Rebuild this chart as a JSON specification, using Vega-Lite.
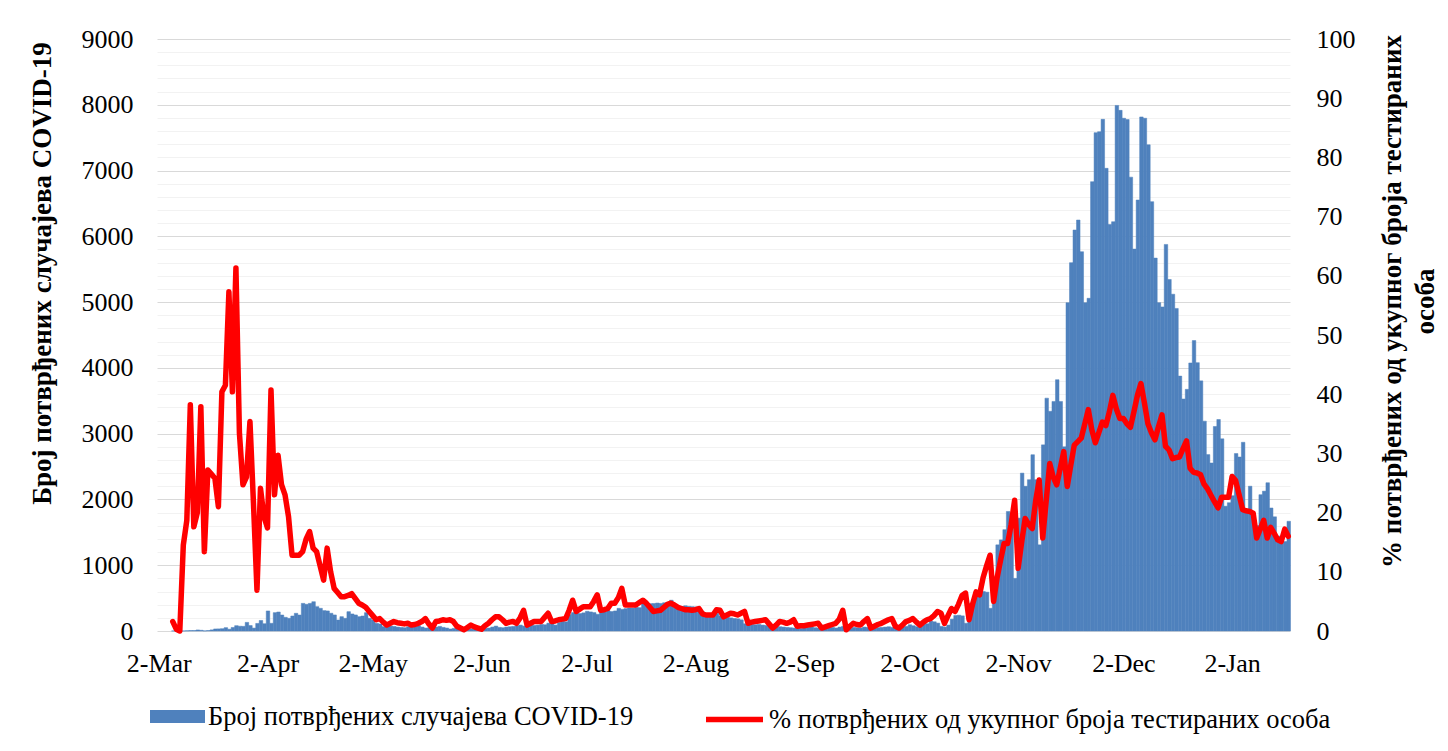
{
"$schema": "https://vega.github.io/schema/vega-lite/v6.json",
"width": 1133, "height": 592,
"autosize": {"type": "none"},
"padding": {"left": 157, "top": 39, "right": 158, "bottom": 120},
"background": "white",
"config": {"view": {"stroke": null}, "font": "Liberation Serif"},
"data": {"values": [
{"t":"2020-03-06","c":1,"p":1.6},{"t":"2020-03-07","c":0,"p":0.3},{"t":"2020-03-08","c":0,"p":0},{"t":"2020-03-09","c":1,"p":14.5},{"t":"2020-03-10","c":4,"p":18.7},{"t":"2020-03-11","c":7,"p":38.2},{"t":"2020-03-12","c":7,"p":17.6},{"t":"2020-03-13","c":16,"p":20},{"t":"2020-03-14","c":11,"p":37.9},{"t":"2020-03-15","c":2,"p":13.4},{"t":"2020-03-16","c":7,"p":27.2},{"t":"2020-03-17","c":17,"p":26.5},{"t":"2020-03-18","c":31,"p":25.8},{"t":"2020-03-19","c":32,"p":21},{"t":"2020-03-20","c":36,"p":40.4},{"t":"2020-03-21","c":51,"p":41.5},{"t":"2020-03-22","c":27,"p":57.3},{"t":"2020-03-23","c":54,"p":40.4},{"t":"2020-03-24","c":81,"p":61.3},{"t":"2020-03-25","c":73,"p":33.4},{"t":"2020-03-26","c":71,"p":24.7},{"t":"2020-03-27","c":131,"p":26},{"t":"2020-03-28","c":82,"p":35.4},{"t":"2020-03-29","c":44,"p":21.6},{"t":"2020-03-30","c":115,"p":6.9},{"t":"2020-03-31","c":160,"p":24.1},
{"t":"2020-04-01","c":111,"p":19.3},{"t":"2020-04-02","c":305,"p":17.4},{"t":"2020-04-03","c":117,"p":40.7},{"t":"2020-04-04","c":279,"p":23},{"t":"2020-04-05","c":289,"p":29.7},{"t":"2020-04-06","c":243,"p":24.7},{"t":"2020-04-07","c":208,"p":23},{"t":"2020-04-08","c":193,"p":19.3},{"t":"2020-04-09","c":228,"p":12.8},{"t":"2020-04-10","c":269,"p":12.8},{"t":"2020-04-11","c":243,"p":12.8},{"t":"2020-04-12","c":420,"p":13.4},{"t":"2020-04-13","c":406,"p":15.5},{"t":"2020-04-14","c":420,"p":16.8},{"t":"2020-04-15","c":445,"p":14},{"t":"2020-04-16","c":370,"p":13.4},{"t":"2020-04-17","c":345,"p":11},{"t":"2020-04-18","c":310,"p":8.6},{"t":"2020-04-19","c":305,"p":14},{"t":"2020-04-20","c":270,"p":10},{"t":"2020-04-21","c":244,"p":7.2},{"t":"2020-04-22","c":167,"p":6.5},{"t":"2020-04-23","c":218,"p":5.8},{"t":"2020-04-24","c":193,"p":5.8},{"t":"2020-04-25","c":294,"p":6},{"t":"2020-04-26","c":259,"p":6.3},{"t":"2020-04-27","c":244,"p":5.5},{"t":"2020-04-28","c":218,"p":4.7},{"t":"2020-04-29","c":228,"p":4.4},{"t":"2020-04-30","c":279,"p":4},
{"t":"2020-05-01","c":193,"p":3.3},{"t":"2020-05-02","c":167,"p":2.6},{"t":"2020-05-03","c":117,"p":1.9},{"t":"2020-05-04","c":107,"p":2.1},{"t":"2020-05-05","c":66,"p":1.5},{"t":"2020-05-06","c":80,"p":1},{"t":"2020-05-07","c":75,"p":1.3},{"t":"2020-05-08","c":70,"p":1.6},{"t":"2020-05-09","c":60,"p":1.4},{"t":"2020-05-10","c":55,"p":1.3},{"t":"2020-05-11","c":50,"p":1.2},{"t":"2020-05-12","c":65,"p":1.3},{"t":"2020-05-13","c":60,"p":1},{"t":"2020-05-14","c":70,"p":1.1},{"t":"2020-05-15","c":80,"p":1.3},{"t":"2020-05-16","c":60,"p":1.6},{"t":"2020-05-17","c":45,"p":2.1},{"t":"2020-05-18","c":50,"p":1.2},{"t":"2020-05-19","c":55,"p":0.5},{"t":"2020-05-20","c":60,"p":1.6},{"t":"2020-05-21","c":70,"p":1.7},{"t":"2020-05-22","c":55,"p":1.9},{"t":"2020-05-23","c":45,"p":1.8},{"t":"2020-05-24","c":30,"p":1.9},{"t":"2020-05-25","c":40,"p":1.6},{"t":"2020-05-26","c":50,"p":0.8},{"t":"2020-05-27","c":45,"p":0.5},{"t":"2020-05-28","c":50,"p":0.2},{"t":"2020-05-29","c":40,"p":0.6},{"t":"2020-05-30","c":35,"p":1},{"t":"2020-05-31","c":30,"p":0.7},
{"t":"2020-06-01","c":30,"p":0.5},{"t":"2020-06-02","c":25,"p":0.3},{"t":"2020-06-03","c":40,"p":0.9},{"t":"2020-06-04","c":45,"p":1.3},{"t":"2020-06-05","c":60,"p":1.9},{"t":"2020-06-06","c":75,"p":2.4},{"t":"2020-06-07","c":55,"p":2.4},{"t":"2020-06-08","c":50,"p":1.9},{"t":"2020-06-09","c":60,"p":1.3},{"t":"2020-06-10","c":65,"p":1.5},{"t":"2020-06-11","c":70,"p":1.6},{"t":"2020-06-12","c":80,"p":1.3},{"t":"2020-06-13","c":90,"p":2.2},{"t":"2020-06-14","c":75,"p":3.5},{"t":"2020-06-15","c":80,"p":1},{"t":"2020-06-16","c":95,"p":1.3},{"t":"2020-06-17","c":85,"p":1.6},{"t":"2020-06-18","c":90,"p":1.6},{"t":"2020-06-19","c":100,"p":1.6},{"t":"2020-06-20","c":95,"p":2.3},{"t":"2020-06-21","c":120,"p":3},{"t":"2020-06-22","c":110,"p":1.6},{"t":"2020-06-23","c":90,"p":1.7},{"t":"2020-06-24","c":130,"p":1.9},{"t":"2020-06-25","c":150,"p":2},{"t":"2020-06-26","c":140,"p":2.1},{"t":"2020-06-27","c":250,"p":3.5},{"t":"2020-06-28","c":280,"p":5.2},{"t":"2020-06-29","c":275,"p":3.3},{"t":"2020-06-30","c":265,"p":3.7},
{"t":"2020-07-01","c":276,"p":4.1},{"t":"2020-07-02","c":300,"p":4.1},{"t":"2020-07-03","c":290,"p":4.1},{"t":"2020-07-04","c":280,"p":5},{"t":"2020-07-05","c":254,"p":6.1},{"t":"2020-07-06","c":300,"p":3.5},{"t":"2020-07-07","c":290,"p":3.6},{"t":"2020-07-08","c":310,"p":3.8},{"t":"2020-07-09","c":296,"p":4.7},{"t":"2020-07-10","c":305,"p":4.7},{"t":"2020-07-11","c":345,"p":5.6},{"t":"2020-07-12","c":330,"p":7.2},{"t":"2020-07-13","c":340,"p":4.4},{"t":"2020-07-14","c":350,"p":4.4},{"t":"2020-07-15","c":349,"p":4.4},{"t":"2020-07-16","c":360,"p":4.4},{"t":"2020-07-17","c":355,"p":4.8},{"t":"2020-07-18","c":411,"p":5.2},{"t":"2020-07-19","c":409,"p":4.7},{"t":"2020-07-20","c":415,"p":4},{"t":"2020-07-21","c":418,"p":3.3},{"t":"2020-07-22","c":425,"p":3.4},{"t":"2020-07-23","c":419,"p":3.5},{"t":"2020-07-24","c":430,"p":4},{"t":"2020-07-25","c":375,"p":4.5},{"t":"2020-07-26","c":468,"p":4.7},{"t":"2020-07-27","c":380,"p":4.4},{"t":"2020-07-28","c":379,"p":4},{"t":"2020-07-29","c":371,"p":3.8},{"t":"2020-07-30","c":384,"p":3.6},{"t":"2020-07-31","c":375,"p":3.6},
{"t":"2020-08-01","c":370,"p":3.5},{"t":"2020-08-02","c":365,"p":3.6},{"t":"2020-08-03","c":330,"p":3.8},{"t":"2020-08-04","c":290,"p":2.9},{"t":"2020-08-05","c":253,"p":2.7},{"t":"2020-08-06","c":265,"p":2.7},{"t":"2020-08-07","c":260,"p":2.7},{"t":"2020-08-08","c":270,"p":3.6},{"t":"2020-08-09","c":230,"p":3.5},{"t":"2020-08-10","c":215,"p":2.4},{"t":"2020-08-11","c":210,"p":2.7},{"t":"2020-08-12","c":200,"p":3},{"t":"2020-08-13","c":190,"p":2.9},{"t":"2020-08-14","c":185,"p":2.7},{"t":"2020-08-15","c":170,"p":3},{"t":"2020-08-16","c":110,"p":3.3},{"t":"2020-08-17","c":105,"p":1.3},{"t":"2020-08-18","c":100,"p":1.5},{"t":"2020-08-19","c":95,"p":1.6},{"t":"2020-08-20","c":100,"p":1.7},{"t":"2020-08-21","c":90,"p":1.8},{"t":"2020-08-22","c":85,"p":1.9},{"t":"2020-08-23","c":75,"p":1.2},{"t":"2020-08-24","c":60,"p":0.5},{"t":"2020-08-25","c":70,"p":1},{"t":"2020-08-26","c":65,"p":1.6},{"t":"2020-08-27","c":60,"p":1.5},{"t":"2020-08-28","c":55,"p":1.3},{"t":"2020-08-29","c":50,"p":1.5},{"t":"2020-08-30","c":45,"p":1.9},{"t":"2020-08-31","c":40,"p":0.8},
{"t":"2020-09-01","c":40,"p":0.9},{"t":"2020-09-02","c":50,"p":0.9},{"t":"2020-09-03","c":55,"p":1},{"t":"2020-09-04","c":60,"p":1.1},{"t":"2020-09-05","c":50,"p":1.2},{"t":"2020-09-06","c":45,"p":1.3},{"t":"2020-09-07","c":35,"p":0.5},{"t":"2020-09-08","c":40,"p":0.7},{"t":"2020-09-09","c":50,"p":0.9},{"t":"2020-09-10","c":55,"p":1.1},{"t":"2020-09-11","c":45,"p":1.3},{"t":"2020-09-12","c":60,"p":2},{"t":"2020-09-13","c":70,"p":3.5},{"t":"2020-09-14","c":45,"p":0.2},{"t":"2020-09-15","c":40,"p":0.8},{"t":"2020-09-16","c":55,"p":1.3},{"t":"2020-09-17","c":50,"p":1.1},{"t":"2020-09-18","c":45,"p":1},{"t":"2020-09-19","c":60,"p":1.6},{"t":"2020-09-20","c":55,"p":2.1},{"t":"2020-09-21","c":40,"p":0.5},{"t":"2020-09-22","c":45,"p":0.8},{"t":"2020-09-23","c":50,"p":1.1},{"t":"2020-09-24","c":55,"p":1.3},{"t":"2020-09-25","c":60,"p":1.6},{"t":"2020-09-26","c":65,"p":1.9},{"t":"2020-09-27","c":55,"p":2.1},{"t":"2020-09-28","c":40,"p":0.8},{"t":"2020-09-29","c":50,"p":0.5},{"t":"2020-09-30","c":60,"p":1},
{"t":"2020-10-01","c":70,"p":1.6},{"t":"2020-10-02","c":95,"p":1.8},{"t":"2020-10-03","c":80,"p":2.1},{"t":"2020-10-04","c":65,"p":1.5},{"t":"2020-10-05","c":90,"p":1},{"t":"2020-10-06","c":100,"p":1.5},{"t":"2020-10-07","c":110,"p":1.9},{"t":"2020-10-08","c":150,"p":2.1},{"t":"2020-10-09","c":140,"p":2.6},{"t":"2020-10-10","c":120,"p":3.3},{"t":"2020-10-11","c":70,"p":3},{"t":"2020-10-12","c":60,"p":1.3},{"t":"2020-10-13","c":90,"p":2.6},{"t":"2020-10-14","c":180,"p":3.8},{"t":"2020-10-15","c":235,"p":3.3},{"t":"2020-10-16","c":240,"p":4.5},{"t":"2020-10-17","c":230,"p":6},{"t":"2020-10-18","c":117,"p":6.4},{"t":"2020-10-19","c":420,"p":1.9},{"t":"2020-10-20","c":430,"p":4.5},{"t":"2020-10-21","c":520,"p":6.6},{"t":"2020-10-22","c":600,"p":6.1},{"t":"2020-10-23","c":600,"p":9},{"t":"2020-10-24","c":590,"p":11},{"t":"2020-10-25","c":345,"p":12.8},{"t":"2020-10-26","c":620,"p":5},{"t":"2020-10-27","c":1310,"p":9},{"t":"2020-10-28","c":1385,"p":12},{"t":"2020-10-29","c":1540,"p":14.8},{"t":"2020-10-30","c":1817,"p":14.8},{"t":"2020-10-31","c":1790,"p":18},
{"t":"2020-11-01","c":800,"p":22.1},{"t":"2020-11-02","c":1716,"p":10.6},{"t":"2020-11-03","c":2400,"p":15},{"t":"2020-11-04","c":2200,"p":19},{"t":"2020-11-05","c":2300,"p":18},{"t":"2020-11-06","c":2680,"p":17.3},{"t":"2020-11-07","c":2300,"p":22},{"t":"2020-11-08","c":1310,"p":25.5},{"t":"2020-11-09","c":2830,"p":15.7},{"t":"2020-11-10","c":3540,"p":22},{"t":"2020-11-11","c":3340,"p":28.3},{"t":"2020-11-12","c":3490,"p":26},{"t":"2020-11-13","c":3820,"p":24.7},{"t":"2020-11-14","c":3490,"p":27.5},{"t":"2020-11-15","c":2800,"p":30.3},{"t":"2020-11-16","c":4991,"p":24.4},{"t":"2020-11-17","c":5600,"p":28},{"t":"2020-11-18","c":6096,"p":31.4},{"t":"2020-11-19","c":6248,"p":32},{"t":"2020-11-20","c":5766,"p":32.6},{"t":"2020-11-21","c":4991,"p":35},{"t":"2020-11-22","c":5058,"p":37.4},{"t":"2020-11-23","c":6831,"p":34},{"t":"2020-11-24","c":7576,"p":31.8},{"t":"2020-11-25","c":7590,"p":33.5},{"t":"2020-11-26","c":7779,"p":35.3},{"t":"2020-11-27","c":7034,"p":34.7},{"t":"2020-11-28","c":6180,"p":37},{"t":"2020-11-29","c":6222,"p":39.8},{"t":"2020-11-30","c":7990,"p":37.5},
{"t":"2020-12-01","c":7915,"p":35.9},{"t":"2020-12-02","c":7795,"p":35.9},{"t":"2020-12-03","c":7775,"p":35},{"t":"2020-12-04","c":6900,"p":34.4},{"t":"2020-12-05","c":5806,"p":37},{"t":"2020-12-06","c":6552,"p":39.8},{"t":"2020-12-07","c":7815,"p":41.8},{"t":"2020-12-08","c":7795,"p":38.5},{"t":"2020-12-09","c":7392,"p":35},{"t":"2020-12-10","c":6527,"p":33.5},{"t":"2020-12-11","c":5669,"p":32.3},{"t":"2020-12-12","c":4992,"p":34.5},{"t":"2020-12-13","c":4927,"p":36.5},{"t":"2020-12-14","c":5877,"p":31.2},{"t":"2020-12-15","c":5344,"p":30.6},{"t":"2020-12-16","c":5120,"p":29.1},{"t":"2020-12-17","c":4904,"p":29.3},{"t":"2020-12-18","c":3875,"p":29.4},{"t":"2020-12-19","c":3527,"p":30.8},{"t":"2020-12-20","c":3674,"p":32.1},{"t":"2020-12-21","c":4075,"p":27.5},{"t":"2020-12-22","c":4415,"p":26.8},{"t":"2020-12-23","c":4080,"p":26.7},{"t":"2020-12-24","c":3803,"p":26.4},{"t":"2020-12-25","c":3190,"p":24.8},{"t":"2020-12-26","c":2682,"p":24},{"t":"2020-12-27","c":2554,"p":22.9},{"t":"2020-12-28","c":3109,"p":21.8},{"t":"2020-12-29","c":3215,"p":20.8},{"t":"2020-12-30","c":2922,"p":22.6},{"t":"2020-12-31","c":1897,"p":22.6},
{"t":"2021-01-01","c":1950,"p":22.6},{"t":"2021-01-02","c":2057,"p":26.1},{"t":"2021-01-03","c":2698,"p":25.4},{"t":"2021-01-04","c":2645,"p":23},{"t":"2021-01-05","c":2869,"p":20.5},{"t":"2021-01-06","c":1827,"p":20.3},{"t":"2021-01-07","c":2201,"p":20.2},{"t":"2021-01-08","c":1763,"p":19.9},{"t":"2021-01-09","c":1602,"p":15.7},{"t":"2021-01-10","c":2073,"p":17.2},{"t":"2021-01-11","c":2126,"p":18.7},{"t":"2021-01-12","c":2254,"p":15.7},{"t":"2021-01-13","c":1870,"p":17.5},{"t":"2021-01-14","c":1736,"p":16.5},{"t":"2021-01-15","c":1443,"p":15.4},{"t":"2021-01-16","c":1336,"p":15.1},{"t":"2021-01-17","c":1360,"p":17.2},{"t":"2021-01-18","c":1668,"p":16}
]},
"layer": [
{"mark": {"type": "bar", "binSpacing": 0, "stroke": "#4F81BD", "strokeWidth": 0.5},
 "encoding": {
  "x": {"field": "t", "type": "temporal", "timeUnit": "utcyearmonthdate",
   "scale": {"type": "utc", "domain": [{"year": 2020, "month": 3, "date": 2, "utc": true}, {"year": 2021, "month": 1, "date": 19, "utc": true}]},
   "axis": {"values": [{"year":2020,"month":3,"date":2,"hours":12,"utc":true},{"year":2020,"month":4,"date":2,"hours":12,"utc":true},{"year":2020,"month":5,"date":2,"hours":12,"utc":true},{"year":2020,"month":6,"date":2,"hours":12,"utc":true},{"year":2020,"month":7,"date":2,"hours":12,"utc":true},{"year":2020,"month":8,"date":2,"hours":12,"utc":true},{"year":2020,"month":9,"date":2,"hours":12,"utc":true},{"year":2020,"month":10,"date":2,"hours":12,"utc":true},{"year":2020,"month":11,"date":2,"hours":12,"utc":true},{"year":2020,"month":12,"date":2,"hours":12,"utc":true},{"year":2021,"month":1,"date":2,"hours":12,"utc":true}],
    "labelExpr": "utcFormat(datum.value, '%-d-%b')", "labelFontSize": 26, "labelColor": "#000000", "grid": false, "domain": false, "ticks": false, "labelPadding": 19, "title": null, "labelOverlap": false, "labelFlush": false}},
  "y": {"field": "c", "type": "quantitative", "scale": {"domain": [0, 9000], "nice": false},
   "axis": {"values": [0,200,400,600,800,1000,1200,1400,1600,1800,2000,2200,2400,2600,2800,3000,3200,3400,3600,3800,4000,4200,4400,4600,4800,5000,5200,5400,5600,5800,6000,6200,6400,6600,6800,7000,7200,7400,7600,7800,8000,8200,8400,8600,8800,9000],
    "labelExpr": "datum.value % 1000 === 0 ? datum.label : ''", "format": "d", "labelOverlap": false,
    "grid": true, "gridColor": {"condition": {"test": "datum.value % 1000 === 0", "value": "#D9D9D9"}, "value": "#F2F2F2"}, "gridWidth": 1,
    "domain": false, "ticks": false, "labelFontSize": 26, "labelColor": "#000000", "labelPadding": 24,
    "title": "Број потврђених случајева COVID-19", "titleFontSize": 27, "titleFontWeight": "bold", "titleColor": "#000000",
    "titleAngle": -90, "titleX": -115, "titleY": 234, "titleAlign": "center", "titleBaseline": "middle", "titleLimit": 1000}},
  "color": {"datum": "Број потврђених случајева COVID-19", "type": "nominal", "scale": {"range": ["#4F81BD"]},
   "legend": {"orient": "none", "legendX": -7, "legendY": 650, "title": null, "padding": 0,
    "symbolType": "M-1,-0.24L1,-0.24L1,0.24L-1,0.24Z", "symbolSize": 3025, "symbolStrokeWidth": 0, "symbolOpacity": 1,
    "labelFontSize": 26.5, "labelColor": "#000000", "labelOffset": 3, "labelLimit": 1000}}
 }},
{"mark": {"type": "line", "strokeWidth": 5.5, "strokeJoin": "round", "strokeCap": "round"},
 "encoding": {
  "x": {"field": "t", "type": "temporal", "timeUnit": "utcyearmonthdate", "bandPosition": 0.5},
  "y": {"field": "p", "type": "quantitative", "scale": {"domain": [0, 100], "nice": false},
   "axis": {"orient": "right", "values": [0,10,20,30,40,50,60,70,80,90,100], "grid": false, "domain": false, "ticks": false,
    "labelFontSize": 26, "labelColor": "#000000", "labelPadding": 26, "labelOverlap": false,
    "title": ["% потврђених од укупног броја тестираних", "особа"], "titleFontSize": 27, "titleFontWeight": "bold", "titleColor": "#000000",
    "titleAngle": -90, "titleX": 102, "titleY": 262, "titleAlign": "center", "titleBaseline": "middle", "titleLineHeight": 33, "titleLimit": 1000}},
  "stroke": {"datum": "% потврђених од укупног броја тестираних особа", "type": "nominal", "scale": {"range": ["#FF0000"]},
   "legend": {"orient": "none", "legendX": 546, "legendY": 649, "title": null, "padding": 0,
    "symbolType": "stroke", "symbolSize": 3249, "symbolStrokeWidth": 5.5,
    "labelFontSize": 26.5, "labelColor": "#000000", "labelOffset": 3, "labelLimit": 1000}}
 }}
],
"resolve": {"scale": {"y": "independent"}}
}
